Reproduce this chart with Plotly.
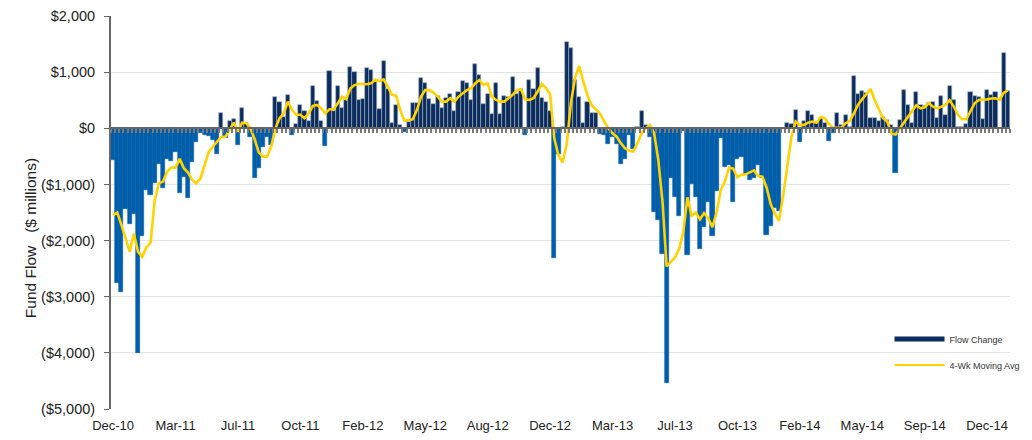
import pandas as pd
import plotly.graph_objects as go

# weekly fund flow ($ millions), Dec-10 .. Dec-14
flow_change = [
    -565, -2750, -2910, -1440, -1700, -1525, -4000, -1910, -1100, -1190,
    -980, -630, -1060, -550, -580, -430, -1160, -860, -1250, -600,
    -250, -80, -120, -140, -200, -450, 265, -165, 130, 160,
    -290, 355, 90, -150, -880, -700, -330, -160, -300, 565,
    460, 200, 590, -120, 75, 415, 300, 135, 755, 490,
    135, -310, 1025, 300, 755, 355, 500, 1100, 1000, 505,
    515, 1070, 1040, 830, 350, 1190, 695, 90, 415, 60,
    -70, 120, 455, 445, 895, 800, 530, 435, 575, 355,
    545, 615, 310, 645, 840, 800, 505, 1140, 950, 430,
    605, 250, 815, 250, 580, 565, 910, 610, 695, -120,
    860, 695, 1070, 535, 475, 300, -2315, -450, 20, 1545,
    1435, 860, 565, 100, 475, 280, 265, -105, -120, -280,
    -150, -280, -640, -545, -120, -370, 20, 300, 50, -150,
    -1485, -1630, -2240, -4540, -890, -1215, -1570, -40, -2255, -1000,
    -1215, -2155, -1750, -1320, -1910, -1110, -170, -690, -650, -1305,
    -550, -520, -830, -920, -880, -650, -880, -1900, -1740, -1420,
    -1480, -20, 90, 70, 325, -240, 135, 310, 235, 90,
    180, 100, -220, -90, 265, 60, 235, 20, 930, 605,
    665, 625, 180, 180, 135, 210, 150, 60, -800, 150,
    680, 410, 100, 640, 415, 400, 445, 460, 190, 580,
    230, 755, 500, 30, 30, 75, 640, 580, 550, 165,
    690, 600, 650, 10, 1335, 660,
]

moving_avg = [
    -1550, -1500, -1720, -1950, -2200, -1880, -2200, -2290, -2120, -2040,
    -1280, -980, -950, -770, -700, -700, -545, -710, -790, -920,
    -980, -890, -670, -420, -325, -240, -150, -150, -30, 100,
    -60, 100, 90, 0, -190, -430, -505, -505, -320, 0,
    180, 265, 475, 325, 240, 240, 180, 265, 400, 415,
    355, 265, 340, 340, 445, 565, 520, 710, 770, 790,
    790, 785, 800, 870, 840, 870, 740, 595, 580, 325,
    135, 145, 160, 325, 565, 680, 680, 635, 565, 475,
    475, 535, 475, 565, 625, 680, 710, 800, 860, 770,
    800, 565, 505, 475, 475, 535, 595, 680, 695, 515,
    505, 535, 650, 790, 715, 605, -180, -480, -610, -280,
    450, 900, 1110, 830, 580, 410, 325, 260, 125, 0,
    -90, -150, -265, -355, -400, -415, -265, -90, 0, 60,
    -90, -565, -1300, -2460, -2380, -2300, -2150, -1850, -1230, -1560,
    -1500, -1620, -1510, -1600, -1760, -1500, -1100, -950, -700, -720,
    -870, -830, -820, -780, -750, -850, -860, -1050, -1350, -1520,
    -1650, -1200, -650, -150, 120, 60, 60, 100, 120, 100,
    200, 180, 75, 10, 10, 10, 90, 130, 265, 420,
    520, 620, 700, 500, 330, 180, 120, -90, -110, 0,
    90, 200, 310, 410, 355, 375, 450, 385, 355, 385,
    415, 500, 385, 240, 160, 160, 300, 445, 505, 505,
    515, 530, 535, 505, 635, 670,
]

weeks = pd.date_range("2010-12-08", periods=len(flow_change), freq="7D").strftime("%Y-%m-%d").tolist()

month_labels = ["Dec-10", "Mar-11", "Jul-11", "Oct-11", "Feb-12", "May-12", "Aug-12", "Dec-12",
                "Mar-13", "Jul-13", "Oct-13", "Feb-14", "May-14", "Sep-14", "Dec-14"]
label_every = 15

y_ticks = [2000, 1000, 0, -1000, -2000, -3000, -4000, -5000]
y_tick_text = ["$2,000", "$1,000", "$0", "($1,000)", "($2,000)", "($3,000)", "($4,000)", "($5,000)"]

NAVY = "#0b2c5c"
BLUE = "#005eaa"
YELLOW = "#ffd200"

bar_colors = [NAVY if v >= 0 else BLUE for v in flow_change]
edge_colors = ["#9fb0c6" if v >= 0 else BLUE for v in flow_change]

fig = go.Figure()

fig.add_trace(go.Bar(
    x=weeks, y=flow_change,
    marker=dict(color=bar_colors, line=dict(color=edge_colors, width=0.6)),
    showlegend=False, name="Flow Change",
))
fig.add_trace(go.Scatter(
    x=weeks, y=moving_avg, xaxis="x2",
    mode="lines", line=dict(color=YELLOW, width=2.6),
    showlegend=False, name="4-Wk Moving Avg",
))

# legend swatches drawn as lines, like the original
fig.add_trace(go.Scatter(x=[None], y=[None], mode="lines", name="Flow Change",
                         line=dict(color=NAVY, width=5), legendgroup="a"))
fig.add_trace(go.Scatter(x=[None], y=[None], mode="lines", name="4-Wk Moving Avg",
                         line=dict(color=YELLOW, width=2), legendgroup="b"))

zero_pos = (0 - y_ticks[-1]) / (y_ticks[0] - y_ticks[-1])

# page body has an 8px margin, so margins are trimmed to land the plot where the original sits
fig.update_layout(
    width=1032, height=440,
    margin=dict(l=103, r=30, t=8, b=39, autoexpand=False),
    plot_bgcolor="white", paper_bgcolor="white",
    font=dict(family="Liberation Sans, Arial, sans-serif", size=13, color="#222222"),
    bargap=0,
    xaxis=dict(
        type="category", categoryorder="array", categoryarray=weeks,
        tickmode="array",
        tickvals=weeks[::label_every][:len(month_labels)],
        ticktext=month_labels,
        showgrid=False, showline=False, ticks="", zeroline=False,
        ticklabelstandoff=7,
        tickfont=dict(size=13), automargin=False,
    ),
    xaxis2=dict(
        type="category", matches="x", overlaying="x", anchor="free",
        position=zero_pos, side="bottom",
        showticklabels=False, showgrid=False,
        tickmode="linear", dtick=1, tickson="boundaries",
        ticks="outside", ticklen=4, tickwidth=2, tickcolor="#7a7a7a",
        showline=True, linecolor="#666666", linewidth=2, automargin=False,
    ),
    yaxis=dict(
        range=[-5000, 2000], tickmode="array", tickvals=y_ticks, ticktext=y_tick_text,
        showgrid=True, gridcolor="#e3e3e3", gridwidth=1,
        zeroline=False, showline=True, linecolor="#666666", linewidth=2,
        ticks="outside", ticklen=5, tickcolor="#666666", tickwidth=1,
        ticklabelstandoff=6,
        tickfont=dict(size=14.5), automargin=False,
    ),
    legend=dict(
        x=0.866, y=0.215, xanchor="left", yanchor="top",
        font=dict(size=9, color="#333333"),
        bgcolor="rgba(0,0,0,0)", tracegroupgap=7, itemwidth=50,
    ),
)

fig.add_annotation(
    text="Fund Flow\u00a0\u00a0\u00a0($ millions)", textangle=-90,
    xref="paper", yref="paper", x=-0.09, y=0.435,
    xanchor="center", yanchor="middle", showarrow=False,
    font=dict(size=15.5, color="#222222"),
)

fig.write_html("out.html")
